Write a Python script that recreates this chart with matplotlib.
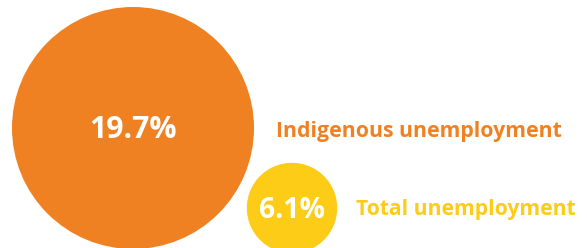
import matplotlib
matplotlib.use("Agg")
import matplotlib.pyplot as plt
from matplotlib.patches import Circle

labels = ["Indigenous unemployment", "Total unemployment"]
values = [19.7, 6.1]
value_labels = ["19.7%", "6.1%"]

colors = ["#F08123", "#FDCC16"]
centers = [(133, 128), (292, 208)]
label_pos = [(276, 132), (356, 210)]
value_fs = [21.8, 20.3]
label_fs = [15.3, 15.2]

fig = plt.figure(figsize=(5.87, 2.48), dpi=100)
ax = fig.add_axes([0, 0, 1, 1])
ax.set_xlim(0, 587)
ax.set_ylim(248, 0)
ax.set_aspect("equal")
ax.axis("off")

r0 = 121.0
for v, vl, lab, c, (cx, cy), (lx, ly), vfs, lfs in zip(values, value_labels, labels, colors, centers, label_pos, value_fs, label_fs):
    r = r0 * (v / values[0]) ** 0.84
    ax.add_patch(Circle((cx, cy), r, color=c, lw=0))
    ax.text(cx, cy + 2, vl, color="white", fontsize=vfs, fontweight="bold",
            ha="center", va="center", family="Open Sans")
    ax.text(lx, ly, lab, color=c, fontsize=lfs, fontweight="bold",
            ha="left", va="center", family="Open Sans")

fig.savefig("out.png", dpi=100)
